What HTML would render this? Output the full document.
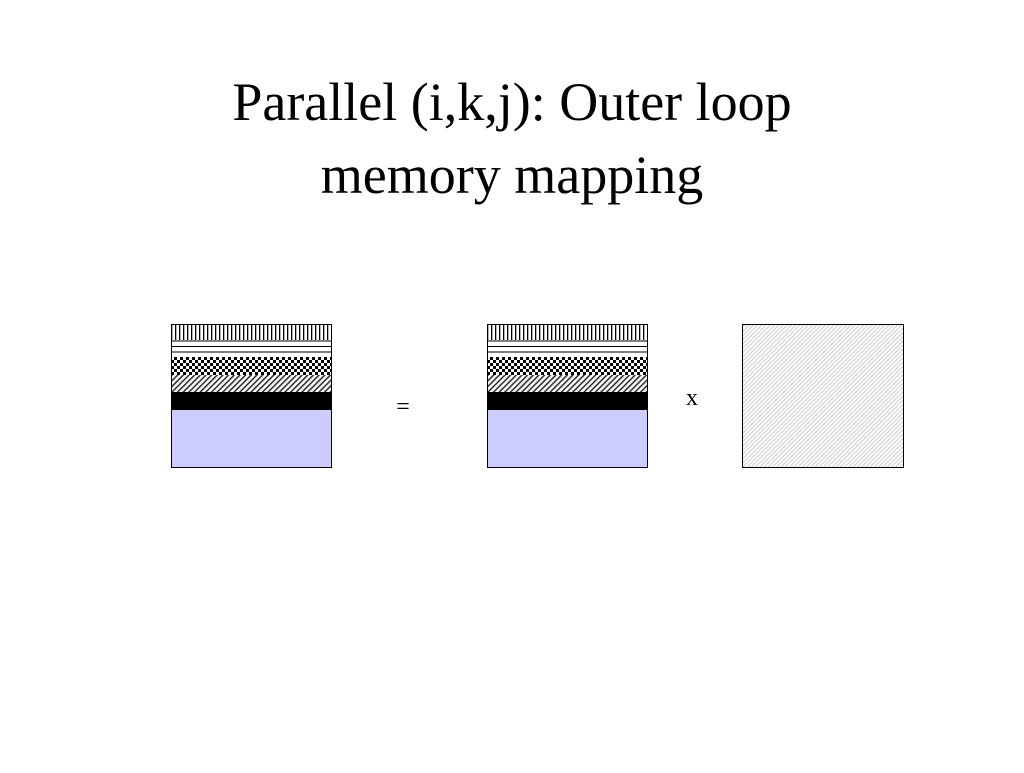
<!DOCTYPE html>
<html><head><meta charset="utf-8"><style>
body{margin:0;background:#fff;width:1024px;height:768px;overflow:hidden}
</style></head><body>
<svg width="1024" height="768" xmlns="http://www.w3.org/2000/svg">
<defs>
<pattern id="vl" width="4" height="4" patternUnits="userSpaceOnUse"><rect width="4" height="4" fill="#fff"/><rect width="1.3" height="4" fill="#000"/></pattern>
<pattern id="hl" width="4" height="5.5" patternUnits="userSpaceOnUse"><rect width="4" height="5.5" fill="#fff"/><rect width="4" height="1" fill="#000"/></pattern>
<pattern id="ck" width="6" height="6" patternUnits="userSpaceOnUse"><rect width="6" height="6" fill="#fff"/><rect width="3" height="3" fill="#000"/><rect x="3" y="3" width="3" height="3" fill="#000"/></pattern>
<pattern id="dg" width="4" height="4" patternUnits="userSpaceOnUse" patternTransform="rotate(45)"><rect width="4" height="4" fill="#fff"/><rect width="1.6" height="4" fill="#333"/></pattern>
<pattern id="lg" width="3" height="3" patternUnits="userSpaceOnUse" patternTransform="rotate(45)"><rect width="3" height="3" fill="#fff"/><rect width="1" height="3" fill="#ccc"/></pattern>
<g id="m">
<rect x="0" y="0" width="161" height="16" fill="url(#vl)"/>
<rect x="0" y="16" width="161" height="17" fill="url(#hl)"/>
<rect x="0" y="33" width="161" height="18" fill="url(#ck)"/>
<rect x="0" y="51" width="161" height="17" fill="url(#dg)"/>
<rect x="0" y="68" width="161" height="18" fill="#000"/>
<rect x="0" y="86" width="161" height="58" fill="#ccccff"/>
<rect x="0.5" y="0.5" width="160" height="143" fill="none" stroke="#000"/>
</g>
</defs>
<text x="512" y="120" text-anchor="middle" font-family="Liberation Serif, serif" font-size="54">Parallel (i,k,j):  Outer loop</text>
<text x="512" y="193" text-anchor="middle" font-family="Liberation Serif, serif" font-size="54">memory mapping</text>
<use href="#m" x="171" y="324"/>
<use href="#m" x="487" y="324"/>
<rect x="742.5" y="324.5" width="161" height="143" fill="url(#lg)" stroke="#000"/>
<text x="403" y="414" text-anchor="middle" font-family="Liberation Serif, serif" font-size="24">=</text>
<text x="692" y="405" text-anchor="middle" font-family="Liberation Serif, serif" font-size="24">x</text>
</svg>
</body></html>
